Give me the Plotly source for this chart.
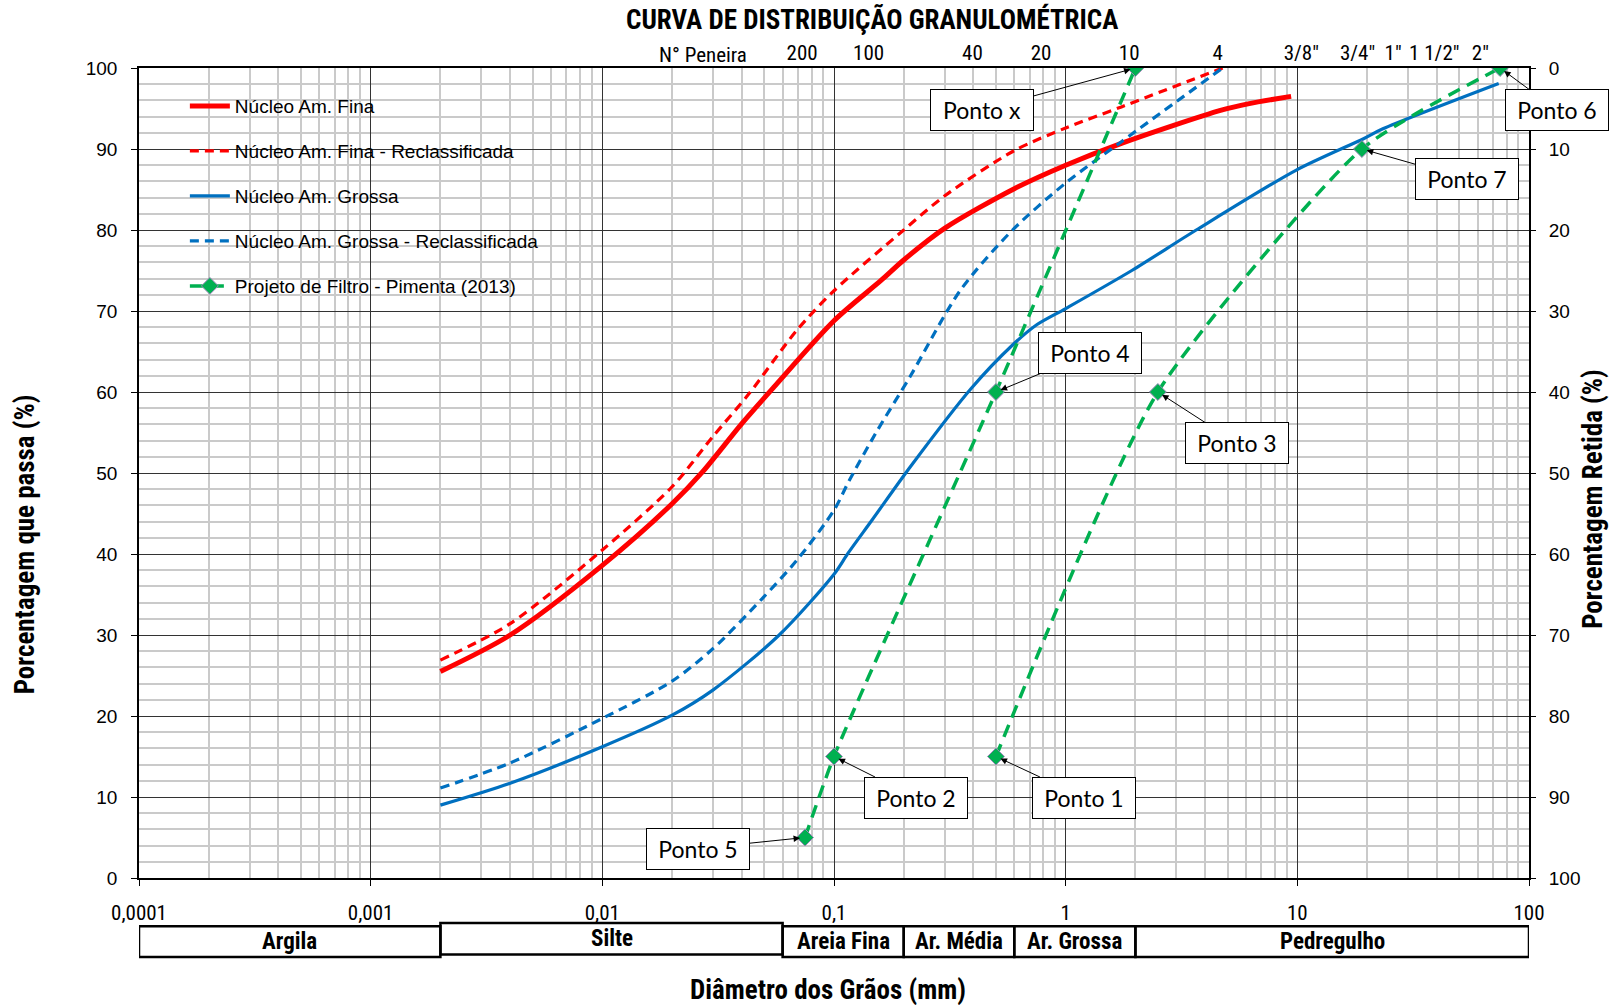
import numpy as np
import plotly.graph_objects as go

# ---------------- DATA ----------------
fina_d = [0.002, 0.004, 0.01, 0.02, 0.027, 0.04, 0.055, 0.1, 0.16, 0.2, 0.3, 0.6, 1.0, 1.74, 4.7, 6.2, 9.4]
fina_p = [25.5, 30.0, 38.6, 46.2, 50.1, 56.1, 60.6, 68.8, 73.8, 76.3, 80.2, 85.1, 88.0, 90.7, 94.8, 95.6, 96.5]

fina_r_d = [0.002, 0.004, 0.01, 0.02, 0.03, 0.043, 0.069, 0.1, 0.2, 0.3, 0.6, 1.0, 1.74, 4.76]
fina_r_p = [26.9, 31.4, 40.5, 48.3, 54.5, 59.8, 67.6, 72.5, 80.0, 84.2, 89.8, 92.6, 95.2, 100]

grossa_d = [0.002, 0.004, 0.01, 0.02, 0.03, 0.058, 0.1, 0.115, 0.146, 0.214, 0.39, 0.59, 0.75, 1.0, 1.93, 3.66, 9.9, 19.4, 23.4, 74]
grossa_p = [9.0, 11.7, 16.2, 20.1, 23.2, 30.0, 37.5, 40.1, 44.2, 50.8, 60.4, 65.8, 68.3, 70.3, 75.0, 80.0, 87.4, 91.3, 92.5, 98.1]

grossa_r_d = [0.002, 0.004, 0.01, 0.02, 0.03, 0.049, 0.069, 0.1, 0.116, 0.152, 0.214, 0.35, 0.59, 1.0, 1.74, 4.76]
grossa_r_p = [11.1, 14.2, 19.7, 24.3, 28.3, 34.5, 39.2, 45.4, 49.0, 55.0, 62.0, 72.5, 80.0, 85.8, 90.9, 100]

filtro_d = [0.075, 0.1, 0.5, 2.0, None, 0.5, 2.5, 19.0, 75.0]
filtro_p = [5, 15, 60, 100, None, 15, 60, 90, 100]
ponto_labels = ["Ponto 5", "Ponto 2", "Ponto 4", "Ponto x", None, "Ponto 1", "Ponto 3", "Ponto 7", "Ponto 6"]

x_tick_vals = [0.0001, 0.001, 0.01, 0.1, 1, 10, 100]
x_tick_text = ["0,0001", "0,001", "0,01", "0,1", "1", "10", "100"]

sieve_pos_mm = [0.0728, 0.141, 0.396, 0.783, 1.88, 4.53, 10.4, 18.2, 25.9, 39.0, 61.7]
sieve_labels = ["200", "100", "40", "20", "10", "4", '3/8"', '3/4"', '1"', '1 1/2"', '2"']

class_bounds = [0.0001, 0.002, 0.06, 0.2, 0.6, 2.0, 100]
class_names = ["Argila", "Silte", "Areia Fina", "Ar. Média", "Ar. Grossa", "Pedregulho"]

# ---------------- STYLE ----------------
NARROW = "Liberation Sans Narrow, Arial Narrow, Roboto Condensed, sans-serif"
ARIAL = "Liberation Sans, Arial, sans-serif"
CALIBRI = "Lato, Carlito, Calibri, sans-serif"
RED = "#FF0000"
BLUE = "#0070C0"
GREEN = "#00B050"

fig = go.Figure()

fig.add_trace(go.Scatter(x=fina_d, y=fina_p, mode="lines", name="Núcleo Am. Fina",
                         line=dict(color=RED, width=5, shape="spline", smoothing=0.8),
                         legendgroup="g1"))
fig.add_trace(go.Scatter(x=fina_r_d, y=fina_r_p, mode="lines", name="Núcleo Am. Fina - Reclassificada",
                         line=dict(color=RED, width=3.2, dash="9px,6px", shape="spline", smoothing=0.8),
                         legendgroup="g2"))
fig.add_trace(go.Scatter(x=grossa_d, y=grossa_p, mode="lines", name="Núcleo Am. Grossa",
                         line=dict(color=BLUE, width=3.2, shape="spline", smoothing=0.8),
                         legendgroup="g3"))
fig.add_trace(go.Scatter(x=grossa_r_d, y=grossa_r_p, mode="lines", name="Núcleo Am. Grossa - Reclassificada",
                         line=dict(color=BLUE, width=3.2, dash="9px,6px", shape="spline", smoothing=0.8),
                         legendgroup="g4"))
fig.add_trace(go.Scatter(x=filtro_d, y=filtro_p, mode="lines+markers", name="Projeto de Filtro - Pimenta (2013)",
                         line=dict(color=GREEN, width=3.5, dash="13px,8px", shape="spline", smoothing=0.6),
                         marker=dict(symbol="diamond", size=13, color=GREEN, line=dict(color="#9A86B8", width=1)),
                         connectgaps=False, legendgroup="g5"))

# invisible trace to activate top / right axes (retained %)
fig.add_trace(go.Scatter(x=[d for d in filtro_d if d is not None],
                         y=[100 - p for p in filtro_p if p is not None],
                         xaxis="x2", yaxis="y2", mode="markers", marker=dict(opacity=0),
                         showlegend=False, hoverinfo="skip"))

minor_x = [k * 10.0 ** e for e in range(-4, 2) for k in range(2, 10)]

fig.update_layout(
    width=1609, height=1005,
    margin=dict(l=139, r=80, t=68, b=127),
    paper_bgcolor="white", plot_bgcolor="white",
    showlegend=True,
    legend=dict(x=0.033, y=0.9765, xanchor="left", yanchor="top", bgcolor="rgba(0,0,0,0)",
                font=dict(family=ARIAL, size=19, color="black"), tracegroupgap=17.3,
                traceorder="grouped", itemwidth=40),
    xaxis=dict(type="log", range=[-4, 2], tickmode="array", tickvals=x_tick_vals, ticktext=x_tick_text,
               showgrid=True, gridcolor="#333333", gridwidth=1,
               minor=dict(tickmode="array", tickvals=minor_x, showgrid=True, gridcolor="#CACACA", gridwidth=1.5),
               showline=True, linecolor="black", linewidth=1.5, mirror=True,
               ticks="outside", ticklen=6, tickcolor="black", ticklabelstandoff=9,
               tickfont=dict(family=NARROW, size=21, color="black"), zeroline=False),
    yaxis=dict(range=[0, 100], dtick=10, showgrid=True, gridcolor="#333333", gridwidth=1,
               minor=dict(dtick=2, showgrid=True, gridcolor="#CACACA", gridwidth=1.5),
               showline=True, linecolor="black", linewidth=1.5, mirror=True,
               ticks="outside", ticklen=6, tickcolor="black", ticklabelstandoff=10,
               tickfont=dict(family=ARIAL, size=19, color="black"), zeroline=False),
    xaxis2=dict(type="log", range=[-4, 2], overlaying="x", side="top", tickmode="array",
                tickvals=sieve_pos_mm, ticktext=sieve_labels, showgrid=False, ticks="",
                showline=False, ticklabelstandoff=3,
                tickfont=dict(family=NARROW, size=21, color="black"), zeroline=False),
    yaxis2=dict(range=[100, 0], dtick=10, overlaying="y", side="right", showgrid=False,
                ticks="outside", ticklen=6, tickcolor="black", ticklabelstandoff=9,
                showline=False, tickfont=dict(family=ARIAL, size=19, color="black"), zeroline=False),
)

# white background behind legend
fig.add_shape(type="rect", xref="paper", yref="paper", x0=0.011, x1=0.315, y0=0.703, y1=0.981,
              fillcolor="white", line=dict(width=0), layer="between")

# classification boxes below the x axis
for i, name in enumerate(class_names):
    a, b = class_bounds[i], class_bounds[i + 1]
    y0, y1 = (-0.0975, -0.0595) if name != "Silte" else (-0.0945, -0.0555)
    fig.add_shape(type="rect", xref="x", yref="paper", x0=a, x1=b, y0=y0, y1=y1,
                  line=dict(color="black", width=2.5), fillcolor="rgba(0,0,0,0)")
    fig.add_annotation(x=(np.log10(a) + np.log10(b)) / 2, y=(y0 + y1) / 2, xref="x", yref="paper",
                       xanchor="center", yanchor="middle",
                       text=name, showarrow=False, font=dict(family=NARROW, size=23, color="black", weight="bold"))

# "Ponto" callouts
offsets = {"Ponto 5": (-107, 11), "Ponto 2": (82, 41), "Ponto 4": (94, -39), "Ponto x": (-153, 42),
           "Ponto 1": (88, 41), "Ponto 3": (79, 51), "Ponto 7": (105, 30), "Ponto 6": (57, 42)}
for d, p, lab in zip(filtro_d, filtro_p, ponto_labels):
    if lab is None:
        continue
    ax, ay = offsets[lab]
    fig.add_annotation(x=np.log10(d), y=p, xref="x", yref="y", text=lab, showarrow=True,
                       ax=ax, ay=ay, arrowhead=2, arrowsize=1.3, arrowwidth=1, arrowcolor="black",
                       standoff=5, bgcolor="white", bordercolor="black", borderwidth=1, borderpad=8,
                       width=86, height=24, font=dict(family=CALIBRI, size=23, color="black"))

# titles
common = dict(xref="paper", yref="paper", showarrow=False, xanchor="center", yanchor="middle")
fig.add_annotation(x=0.527, y=1.0595, text="CURVA DE DISTRIBUIÇÃO GRANULOMÉTRICA",
                   font=dict(family=NARROW, size=27, color="black", weight="bold"), **common)
fig.add_annotation(x=0.406, y=1.0164, text="N° Peneira",
                   font=dict(family=NARROW, size=21, color="black"), **common)
fig.add_annotation(x=0.496, y=-0.138, text="Diâmetro dos Grãos (mm)",
                   font=dict(family=NARROW, size=27, color="black", weight="bold"), **common)
fig.add_annotation(x=-0.082, y=0.412, text="Porcentagem que passa (%)", textangle=-90,
                   font=dict(family=NARROW, size=27, color="black", weight="bold"), **common)
fig.add_annotation(x=1.046, y=0.468, text="Porcentagem Retida (%)", textangle=-90,
                   font=dict(family=NARROW, size=27, color="black", weight="bold"), **common)

fig.write_html("out.html", config={"displayModeBar": False},
               post_script="document.body.style.margin='0px';")
